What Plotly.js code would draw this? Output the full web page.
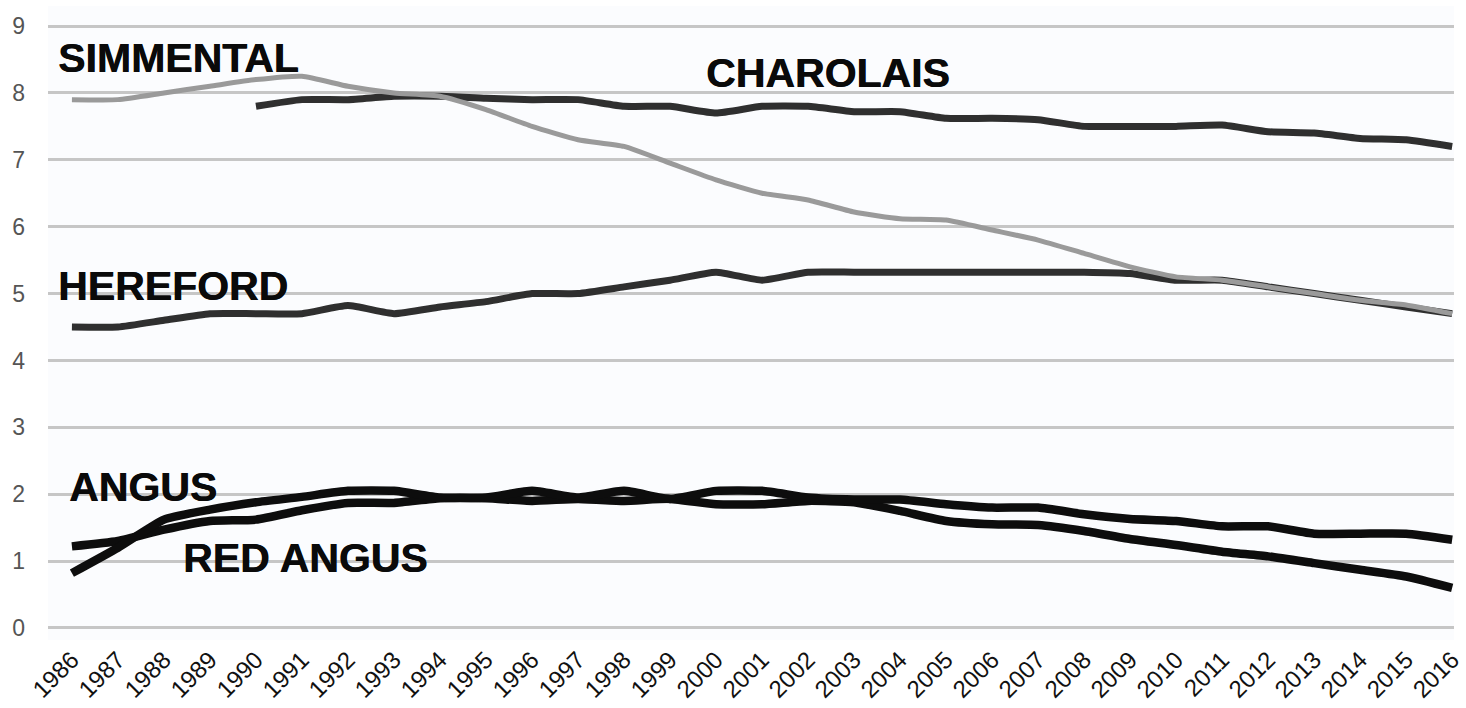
<!DOCTYPE html>
<html>
<head>
<meta charset="utf-8">
<script src="https://cdn.plot.ly/plotly-3.0.1.min.js"></script>
<style>html,body{margin:0;padding:0;background:#fff;}#chart{width:1466px;height:708px;}</style>
</head>
<body>
<div id="chart"></div>
<script>
const years = [1986,1987,1988,1989,1990,1991,1992,1993,1994,1995,1996,1997,1998,1999,2000,2001,2002,2003,2004,2005,2006,2007,2008,2009,2010,2011,2012,2013,2014,2015,2016];
const simmental = [7.9,7.9,8.0,8.1,8.2,8.25,8.1,8.0,7.95,7.75,7.5,7.3,7.2,6.95,6.7,6.5,6.4,6.22,6.12,6.1,5.95,5.8,5.6,5.4,5.25,5.2,5.1,5.0,4.9,4.83,4.7];
const charolais = [null,null,null,null,7.8,7.9,7.9,7.95,7.95,7.92,7.9,7.9,7.8,7.8,7.7,7.8,7.8,7.72,7.72,7.62,7.62,7.6,7.5,7.5,7.5,7.52,7.42,7.4,7.32,7.3,7.2];
const hereford = [4.5,4.5,4.6,4.7,4.7,4.7,4.82,4.7,4.8,4.88,5.0,5.0,5.1,5.2,5.32,5.2,5.32,5.32,5.32,5.32,5.32,5.32,5.32,5.3,5.2,5.2,5.1,5.0,4.9,4.8,4.7];
const angus = [1.22,1.3,1.47,1.6,1.62,1.76,1.87,1.87,1.94,1.94,1.9,1.93,1.9,1.93,1.85,1.85,1.9,1.88,1.75,1.6,1.55,1.54,1.45,1.33,1.24,1.14,1.07,0.97,0.87,0.77,0.6];
const redAngus = [0.82,1.2,1.62,1.77,1.88,1.96,2.05,2.05,1.95,1.95,2.05,1.95,2.05,1.93,2.05,2.05,1.95,1.92,1.92,1.85,1.8,1.8,1.7,1.63,1.6,1.52,1.52,1.41,1.41,1.41,1.32];
const labels = ['SIMMENTAL','CHAROLAIS','HEREFORD','ANGUS','RED ANGUS'];
const yTicks = [0,1,2,3,4,5,6,7,8,9];

function tr(y, color, width){
  return {x: years, y: y, type:'scatter', mode:'lines', connectgaps:false,
    line:{color: color, width: width, shape:'spline', smoothing:0.5}, hoverinfo:'skip'};
}
const data = [
  tr(charolais,'#2f2f2f',7),
  tr(hereford,'#2f2f2f',7),
  tr(simmental,'#9a9a9a',5),
  tr(angus,'#0d0d0d',8.5),
  tr(redAngus,'#0d0d0d',8.5)
];
const annPos = [[1985.68,8.52],[1999.75,8.3],[1985.68,5.11],[1985.91,2.11],[1988.4,1.05]];
const annotations = labels.map((t,i)=>({
  text: t, x: annPos[i][0], y: annPos[i][1], xref:'x', yref:'y',
  xanchor:'left', yanchor:'middle', showarrow:false, borderpad:0,
  font:{family:'Liberation Sans, Arial, sans-serif', size:41, color:'#0a0a0a', weight:'bold',
        shadow:'0.6px 0 0 #0a0a0a'}
}));
const layout = {
  width:1466, height:708,
  margin:{l:48, r:12, t:6, b:68},
  paper_bgcolor:'#ffffff', plot_bgcolor:'#fbfcfe',
  showlegend:false,
  xaxis:{type:'linear', range:[1985.48,2016.04], tickvals: years, ticktext: years.map(String),
    tickangle:-45, showgrid:false, zeroline:false, showline:false, ticks:'',
    ticklabeloverflow:'allow', automargin:false,
    tickfont:{family:'Liberation Sans, Arial, sans-serif', size:24, color:'#111'}},
  yaxis:{range:[-0.18,9.3], tickvals: yTicks, ticktext: yTicks.map(String),
    showgrid:true, gridcolor:'#c6c6c6', gridwidth:3, zeroline:false, showline:false, ticks:'',
    ticklabelstandoff:22, automargin:false,
    tickfont:{family:'Liberation Sans, Arial, sans-serif', size:23, color:'#555'}},
  annotations: annotations
};
Plotly.newPlot('chart', data, layout, {staticPlot:true, displayModeBar:false});
</script>
</body>
</html>
